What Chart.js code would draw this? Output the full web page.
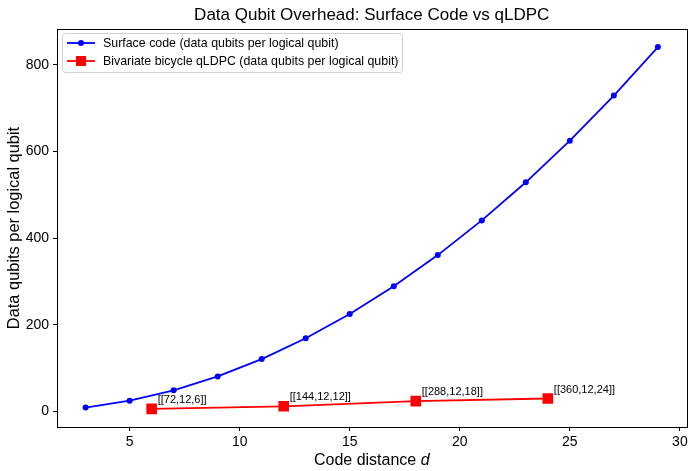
<!DOCTYPE html>
<html>
<head>
<meta charset="utf-8">
<script src="https://cdn.jsdelivr.net/npm/chart.js@4/dist/chart.umd.min.js"></script>
<style>
html,body{margin:0;padding:0;background:#fff;}
#wrap{width:694px;height:471px;position:relative;}
</style>
</head>
<body>
<div id="wrap"><canvas id="c" width="694" height="471"></canvas></div>
<script>
const surfaceD = [3,5,7,9,11,13,15,17,19,21,23,25,27,29];
const surfaceQubits = [9,25,49,81,121,169,225,289,361,441,529,625,729,841];
const qldpcD = [6,12,18,24];
const qldpcQubits = [6,12,24,30];
const qldpcLabels = ['[[72,12,6]]','[[144,12,12]]','[[288,12,18]]','[[360,12,24]]'];
const xTicks = [5,10,15,20,25,30];
const yTicks = [0,200,400,600,800];
const titleText = 'Data Qubit Overhead: Surface Code vs qLDPC';
const xLabelText = 'Code distance ';
const xLabelItalic = 'd';
const yLabelText = 'Data qubits per logical qubit';
const seriesNames = ['Surface code (data qubits per logical qubit)','Bivariate bicycle qLDPC (data qubits per logical qubit)'];

const FONT = '"Liberation Sans", Arial, sans-serif';

const decor = {
  id:'decor',
  afterDatasetsDraw(chart){
    const ctx = chart.ctx, a = chart.chartArea;
    const xs = chart.scales.x, ys = chart.scales.y;
    ctx.save();
    // frame
    ctx.strokeStyle = '#000'; ctx.lineWidth = 1;
    ctx.strokeRect(Math.round(a.left)+0.5, Math.round(a.top)+0.5, Math.round(a.right-a.left), Math.round(a.bottom-a.top));
    // annotations
    ctx.fillStyle = '#000';
    ctx.font = '11px ' + FONT;
    ctx.textAlign = 'left'; ctx.textBaseline = 'alphabetic';
    qldpcLabels.forEach((t,i)=>{
      const px = xs.getPixelForValue(qldpcD[i]);
      const py = ys.getPixelForValue(qldpcQubits[i]);
      ctx.fillText(t, px+6, py-6);
    });
    // legend
    const lx = 62, ly = 33, lw = 340, lh = 39;
    ctx.fillStyle = 'rgba(255,255,255,0.8)';
    ctx.strokeStyle = '#d0d0d0';
    ctx.lineWidth = 1;
    ctx.beginPath();
    if (ctx.roundRect) ctx.roundRect(lx+0.5, ly+0.5, lw, lh, 3); else ctx.rect(lx+0.5, ly+0.5, lw, lh);
    ctx.fill(); ctx.stroke();
    const ds = chart.data.datasets;
    ds.forEach((d,i)=>{
      const yy = ly + 10 + i*18;
      ctx.strokeStyle = d.borderColor; ctx.lineWidth = 1.8;
      ctx.beginPath(); ctx.moveTo(lx+5, yy); ctx.lineTo(lx+33, yy); ctx.stroke();
      ctx.fillStyle = d.backgroundColor;
      if (i===0){ ctx.beginPath(); ctx.arc(lx+19, yy, 3, 0, Math.PI*2); ctx.fill(); }
      else { ctx.fillRect(lx+19-5, yy-5, 10, 10); }
      ctx.fillStyle = '#000';
      ctx.font = '12.4px ' + FONT;
      ctx.textBaseline = 'middle';
      ctx.fillText(d.label, lx+41, yy+0.5);
    });
    // title
    ctx.textAlign = 'center'; ctx.textBaseline = 'alphabetic';
    ctx.font = '17px ' + FONT;
    ctx.fillText(titleText, (a.left+a.right)/2, 20);
    // x label
    ctx.font = '16px ' + FONT;
    const w1 = ctx.measureText(xLabelText).width;
    ctx.font = 'italic 16px ' + FONT;
    const w2 = ctx.measureText(xLabelItalic).width;
    const sx = (a.left+a.right)/2 - (w1+w2)/2;
    ctx.textAlign = 'left';
    ctx.font = '16px ' + FONT;
    ctx.fillText(xLabelText, sx, 465);
    ctx.font = 'italic 16px ' + FONT;
    ctx.fillText(xLabelItalic, sx+w1, 465);
    // y label
    ctx.translate(19, (a.top+a.bottom)/2);
    ctx.rotate(-Math.PI/2);
    ctx.textAlign = 'center';
    ctx.font = '16.4px ' + FONT;
    ctx.fillText(yLabelText, 0, 0);
    ctx.restore();
  }
};

new Chart(document.getElementById('c'), {
  type:'line',
  data:{
    datasets:[
      {label:seriesNames[0], data:surfaceD.map((d,i)=>({x:d,y:surfaceQubits[i]})),
       borderColor:'#0000ff', backgroundColor:'#0000ff', borderWidth:1.8,
       pointRadius:3, pointHoverRadius:3, pointStyle:'circle', pointBorderWidth:0, tension:0},
      {label:seriesNames[1], data:qldpcD.map((d,i)=>({x:d,y:qldpcQubits[i]})),
       borderColor:'#ff0000', backgroundColor:'#ff0000', borderWidth:1.8,
       pointRadius:7.5, pointHoverRadius:7.5, pointStyle:'rect', pointBorderWidth:0, tension:0}
    ]
  },
  options:{
    responsive:false, animation:false, devicePixelRatio:1,
    layout:{padding:{left:0,top:29,right:6,bottom:0}},
    plugins:{legend:{display:false}, title:{display:false}, tooltip:{enabled:false}},
    scales:{
      x:{type:'linear', min:1.7, max:30.3,
        afterBuildTicks:(s)=>{s.ticks = xTicks.map(v=>({value:v}));},
        afterFit:(s)=>{s.height = 44;},
        grid:{display:true, drawOnChartArea:false, drawTicks:true, tickLength:4, color:'#000', tickColor:'#000'},
        border:{display:false},
        ticks:{color:'#000', font:{family:FONT, size:14}, padding:3, maxRotation:0, autoSkip:false}
      },
      y:{type:'linear', min:-35.75, max:882.75,
        afterBuildTicks:(s)=>{s.ticks = yTicks.map(v=>({value:v}));},
        afterFit:(s)=>{s.width = 57;},
        grid:{display:true, drawOnChartArea:false, drawTicks:true, tickLength:4, color:'#000', tickColor:'#000'},
        border:{display:false},
        ticks:{color:'#000', font:{family:FONT, size:14}, padding:4, autoSkip:false}
      }
    }
  },
  plugins:[decor]
});
</script>
</body>
</html>
